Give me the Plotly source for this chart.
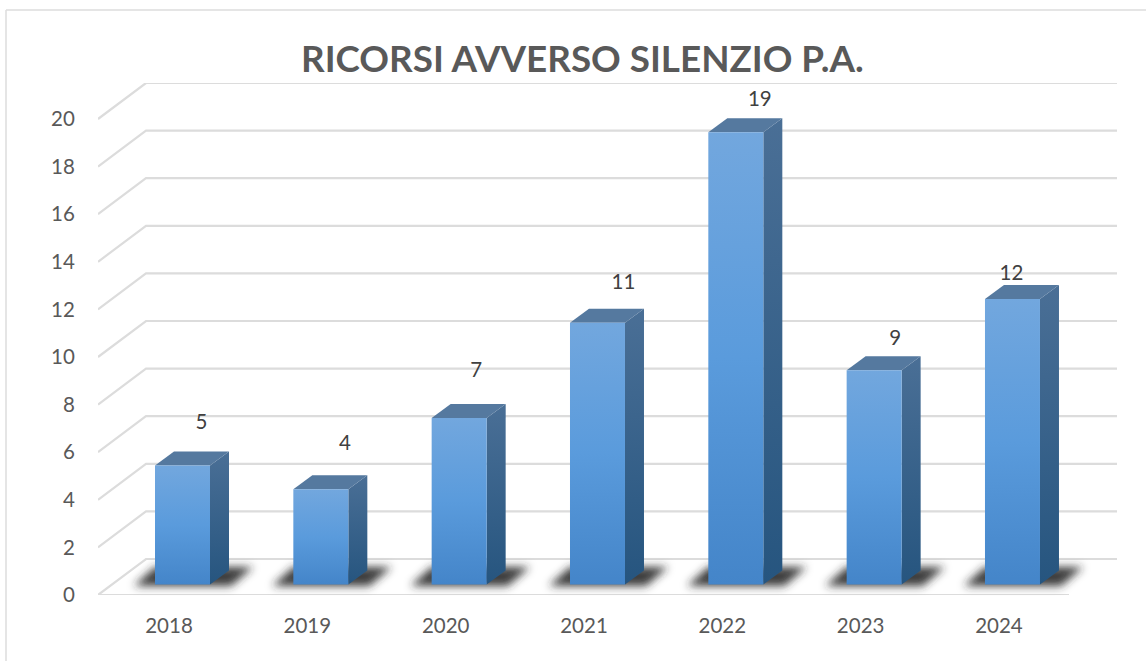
import plotly.graph_objects as go

# ---- data ----
YEARS = ["2018", "2019", "2020", "2021", "2022", "2023", "2024"]
VALUES = [5, 4, 7, 11, 19, 9, 12]
Y_TICKS = [0, 2, 4, 6, 8, 10, 12, 14, 16, 18, 20]
TITLE = "RICORSI AVVERSO SILENZIO P.A."

# ---- layout of the simulated 3D scene (pixels) ----
W, H = 1146, 661
PX_PER_CAT = 138.33
PX_PER_UNIT = 23.8
CAT0_PX = 169
LEFT, RIGHT = 98, 1117
FLOOR_END = 1069
FRONT_Y, BACK_TOP_Y = 595, 83
WALL_DX, WALL_DY = 48, 36
BAR_W, BAR_DX, BAR_DY = 55, 19, 14
BAR_OFF_X, BAR_OFF_Y = 13.5, 10.5
LABEL_DX = [19, 24, 17, 26, 24, 21, -1]
LABEL_DY = [42, 44, 46, 39, 31, 30, 24]


def dx(p):
    return p / PX_PER_CAT


def dy(p):
    return p / PX_PER_UNIT


XMIN = (LEFT - CAT0_PX) / PX_PER_CAT
XMAX = (RIGHT - CAT0_PX) / PX_PER_CAT
XFLOOR = (FLOOR_END - CAT0_PX) / PX_PER_CAT
YMAX = (FRONT_Y - BACK_TOP_Y) / PX_PER_UNIT

FONT = "Lato, 'Open Sans', sans-serif"
GRID = "#dcdcdc"
fig = go.Figure()


def poly(xs, ys, **kw):
    fig.add_trace(go.Scatter(x=xs, y=ys, mode="lines", fill="toself", line=dict(width=0),
                             hoverinfo="skip", showlegend=False, cliponaxis=False, **kw))


# grid on the wall and the side wall
for v in Y_TICKS:
    fig.add_trace(go.Scatter(
        x=[XMIN, XMIN + dx(WALL_DX), XMAX], y=[v, v + dy(WALL_DY), v + dy(WALL_DY)],
        mode="lines", line=dict(color=GRID, width=2.2), hoverinfo="skip",
        showlegend=False, cliponaxis=False))
fig.add_trace(go.Scatter(x=[XMIN, XFLOOR], y=[0, 0], mode="lines", line=dict(color=GRID, width=2.2),
                         hoverinfo="skip", showlegend=False, cliponaxis=False))

# floor shadows: one polygon per bar, blurred in the page by an SVG filter
for i in range(len(YEARS)):
    x0 = i + dx(BAR_OFF_X - BAR_W / 2)
    xs = [x0 + dx(p) for p in (-21, 0, 98, 76)]
    ys = [dy(q) for q in (9, 28, 28, 9)]
    poly(xs + xs[:1], ys + ys[:1], fillcolor="rgba(40,40,40,0.9)", name="shadow")

# bars
for i, v in enumerate(VALUES):
    xl = i + dx(BAR_OFF_X - BAR_W / 2)
    xr = xl + dx(BAR_W)
    yb = dy(BAR_OFF_Y)
    yt = yb + v
    ddx, ddy = dx(BAR_DX), dy(BAR_DY)
    poly([xr, xr + ddx, xr + ddx, xr, xr], [yb, yb + ddy, yt + ddy, yt, yb],
         fillgradient=dict(type="vertical",
                           colorscale=[[0, "#26557f"], [1, "#4a6f96"]]))
    poly([xl, xl + ddx, xr + ddx, xr, xl], [yt, yt + ddy, yt + ddy, yt, yt], fillcolor="#55799f")
    poly([xl, xr, xr, xl, xl], [yb, yb, yt, yt, yb],
         fillgradient=dict(type="vertical",
                           colorscale=[[0, "#4485c9"], [0.5, "#5a9bdc"], [1, "#72a7de"]]))

# value labels
fig.add_trace(go.Scatter(
    x=[i + dx(BAR_OFF_X + LABEL_DX[i]) for i in range(len(VALUES))],
    y=[v + dy(BAR_OFF_Y + LABEL_DY[i]) for i, v in enumerate(VALUES)],
    mode="text", text=[str(v) for v in VALUES], textposition="middle center",
    textfont=dict(family=FONT, size=20.5, color="#404040"),
    hoverinfo="skip", showlegend=False, cliponaxis=False))

frame = dict(color=GRID, width=1.5)
fig.update_layout(
    width=W, height=H, margin=dict(l=0, r=0, t=0, b=0, autoexpand=False),
    paper_bgcolor="white", plot_bgcolor="rgba(0,0,0,0)", showlegend=False,
    xaxis=dict(domain=[LEFT / W, RIGHT / W], range=[XMIN, XMAX], tickmode="array",
               tickvals=list(range(len(YEARS))), ticktext=YEARS, showgrid=False, zeroline=False,
               showline=False, ticks="outside", ticklen=12, tickcolor="rgba(0,0,0,0)",
               tickfont=dict(family=FONT, size=20.5, color="#595959")),
    yaxis=dict(domain=[(H - FRONT_Y) / H, (H - BACK_TOP_Y) / H], range=[0, YMAX], tickmode="array",
               tickvals=Y_TICKS, ticktext=[str(v) for v in Y_TICKS], showgrid=False, zeroline=False,
               showline=False, ticks="outside", ticklen=18, tickcolor="rgba(0,0,0,0)",
               tickfont=dict(family=FONT, size=20.5, color="#595959")),
    annotations=[dict(text="<b>" + TITLE + "</b>", xref="paper", yref="paper", x=582.5 / W,
                      y=(H - 58) / H, showarrow=False, xanchor="center", yanchor="middle",
                      font=dict(family=FONT, size=36.8, color="#595959"))],
    shapes=[dict(type="line", xref="paper", yref="paper", x0=6 / W, x1=6 / W, y0=0, y1=(H - 10) / H, line=frame),
            dict(type="line", xref="paper", yref="paper", x0=6 / W, x1=1, y0=(H - 10) / H, y1=(H - 10) / H, line=frame)],
)

BLUR_JS = """
document.body.style.margin='0';document.body.style.overflow='hidden';
var gd=document.getElementById('{plot_id}');
var ns='http://www.w3.org/2000/svg';
var svg=gd.querySelector('.main-svg');
var defs=svg.querySelector('defs')||svg.insertBefore(document.createElementNS(ns,'defs'),svg.firstChild);
var f=document.createElementNS(ns,'filter');
f.setAttribute('id','softshadow');
f.setAttribute('filterUnits','userSpaceOnUse');
f.setAttribute('x','0');f.setAttribute('y','0');
f.setAttribute('width','1146');f.setAttribute('height','661');
var b=document.createElementNS(ns,'feGaussianBlur');
b.setAttribute('stdDeviation','4.5');
f.appendChild(b);defs.appendChild(f);
var all=gd.querySelectorAll('.scatterlayer .trace');
all.forEach(function(t,i){ if(gd.data[i]&&gd.data[i].name==='shadow'){t.setAttribute('filter','url(#softshadow)');} });
"""
fig.write_html("out.html", config={"displayModeBar": False}, post_script=BLUR_JS)
